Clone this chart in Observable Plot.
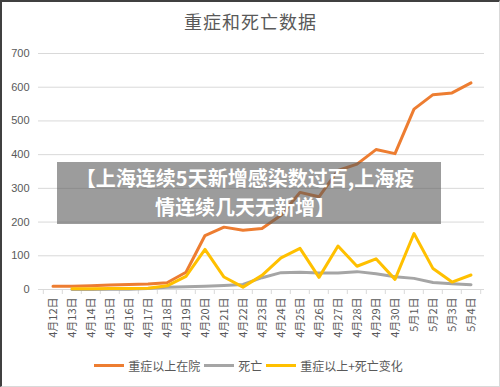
<!DOCTYPE html>
<html><head><meta charset="utf-8">
<script src="https://cdn.jsdelivr.net/npm/d3@7"></script>
<script src="https://cdn.jsdelivr.net/npm/@observablehq/plot@0.6"></script>
<style>
body{margin:0;background:#fff;}
#wrap{position:relative;width:500px;height:387px;box-sizing:border-box;border-top:2px solid #404040;border-left:2px solid #404040;border-right:1px solid #d9d9d9;border-bottom:1px solid #d9d9d9;overflow:hidden;font-family:"Noto Sans CJK SC",sans-serif;background:#fff;}
#title{height:38px;line-height:38px;text-align:center;font-size:18px;color:#595959;letter-spacing:1px;}
#chart svg{display:block;}
#legend{display:flex;justify-content:center;align-items:center;height:27px;font-size:12px;color:#595959;}
#legend .sw{display:inline-block;width:30px;height:3px;margin-right:4px;}
#legend .it{display:flex;align-items:center;margin-right:4px;}
#banner{position:absolute;left:55px;top:160px;width:384px;height:62px;background:rgba(90,90,90,0.6);color:#fff;font-weight:bold;font-size:20px;line-height:29px;text-align:center;padding-top:1px;padding-right:8px;box-sizing:border-box;white-space:nowrap;}
</style></head>
<body>
<div id="wrap">
  <div id="title">重症和死亡数据</div>
  <div id="chart"></div>
  <div id="legend"></div>
  <div id="banner">【上海连续5天新增感染数过百,上海疫<br>情连续几天无新增】</div>
</div>
<script>
const dates = ["4月12日","4月13日","4月14日","4月15日","4月16日","4月17日","4月18日","4月19日","4月20日","4月21日","4月22日","4月23日","4月24日","4月25日","4月26日","4月27日","4月28日","4月29日","4月30日","5月1日","5月2日","5月3日","5月4日"];
const severe = [10, 10, 11, 13, 15, 16, 20, 51, 160, 185, 176, 181, 220, 288, 275, 353, 372, 415, 403, 535, 578, 583, 613];
const deaths = [null, 0, 0, 1, 1, 3, 7, 8, 10, 12, 15, 35, 50, 51, 49, 49, 53, 47, 38, 33, 21, 17, 14];
const change = [null, 2, 2, 3, 3, 4, 11, 39, 119, 37, 7, 42, 94, 122, 36, 129, 69, 91, 30, 166, 62, 22, 43];
const seriesNames = ["重症以上在院","死亡","重症以上+死亡变化"];
const seriesColors = ["#ED7D31","#A5A5A5","#FFC000"];
const yTicks = [0,100,200,300,400,500,600,700];

const seriesValues = [severe, deaths, change];
const rows = seriesNames.flatMap((name, s) => dates.map((date, i) => ({date, name, value: seriesValues[s][i]}))).filter(d => d.value != null);

const W = 497, H = 312, ML = 36, MR = 15, MT = 13, MB = 63;
const bw = (W - ML - MR) / dates.length;

const plot = Plot.plot({
  width: W, height: H,
  marginLeft: ML, marginRight: MR, marginTop: MT, marginBottom: MB,
  style: {fontFamily: '"Noto Sans CJK SC", sans-serif', fontSize: "11px", color: "#595959", background: "transparent"},
  x: {type: "band", domain: dates, padding: 0, tickRotate: -90, tickSize: 0, tickPadding: 8, label: null},
  y: {domain: [0, 700], ticks: yTicks, tickSize: 0, tickPadding: 9, label: null},
  color: {domain: seriesNames, range: seriesColors},
  marks: [
    Plot.ruleY(yTicks, {stroke: "#d9d9d9", strokeWidth: 1}),
    Plot.ruleX(dates, {x: d => d, y1: 0, y2: 0, insetBottom: -5, dx: -bw / 2, stroke: "#d9d9d9"}),
    Plot.ruleX(dates.slice(-1), {x: d => d, y1: 0, y2: 0, insetBottom: -5, dx: bw / 2, stroke: "#d9d9d9"}),
    Plot.line(rows, {x: "date", y: "value", z: "name", stroke: "name", strokeWidth: 3, strokeLinejoin: "round", strokeLinecap: "round"})
  ]
});
d3.select(plot).selectAll('g[aria-label^="y-axis"] text').style("font-family", '"Liberation Sans", Arial, sans-serif').style("font-size", "11px");
document.getElementById("chart").appendChild(plot);

const legend = d3.select("#legend");
seriesNames.forEach((n, i) => {
  const it = legend.append("div").attr("class", "it");
  it.append("span").attr("class", "sw").style("background", seriesColors[i]);
  it.append("span").text(n);
});
</script>
</body></html>
